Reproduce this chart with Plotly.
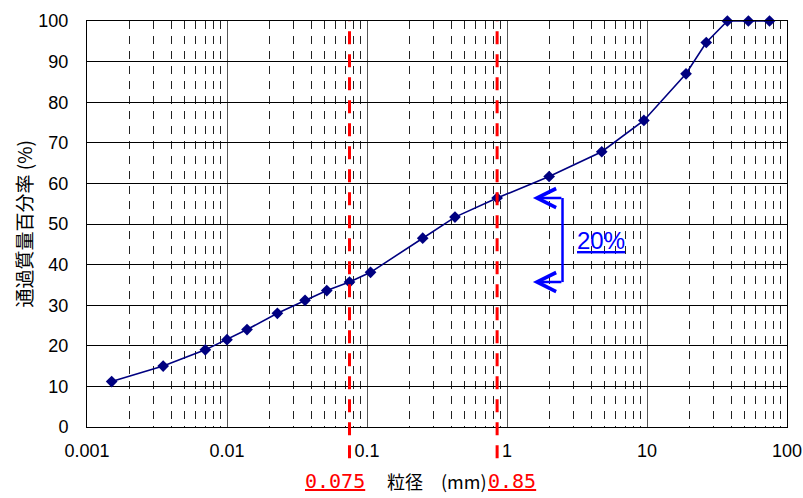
import math
import plotly.graph_objects as go

# --- data ---
grain_size_mm = [0.0015, 0.0035, 0.0070, 0.0100, 0.0139, 0.0229, 0.0361, 0.0516,
                 0.075, 0.106, 0.25, 0.425, 0.85, 2.0, 4.75, 9.5, 19.0, 26.5, 37.5, 53.0, 75.0]
passing_pct = [11.2, 15.0, 19.0, 21.5, 24.0, 28.0, 31.2, 33.6,
               35.7, 38.1, 46.5, 51.7, 56.4, 61.7, 67.8, 75.5, 87.0, 94.7, 100.0, 100.0, 100.0]

x_tick_vals = [0.001, 0.01, 0.1, 1, 10, 100]
x_tick_text = ["0.001", "0.01", "0.1", "1", "10", "100"]
y_tick_vals = list(range(0, 101, 10))

ref_sizes = [0.075, 0.85]
ref_labels = ["0.075", "0.85"]
bracket_pct = [56.4, 35.7]
bracket_label = "20%"

x_title = "粒径\u3000(mm)"
y_title = "通過質量百分率 (%)"

NAVY = "#000080"
minor_vals = [m * 10 ** e for e in range(-3, 2) for m in range(2, 10)]

fig = go.Figure()
fig.add_trace(go.Scatter(
    x=grain_size_mm, y=passing_pct, mode="lines+markers",
    line=dict(color=NAVY, width=1.6),
    marker=dict(symbol="diamond", size=9, color=NAVY),
    cliponaxis=False, showlegend=False, hoverinfo="skip",
))

# red reference lines
for v in ref_sizes:
    fig.add_shape(type="line", xref="x", yref="paper", x0=v, x1=v, y0=-0.077, y1=1,
                  line=dict(color="#FF0000", width=3, dash="13px,10px"), layer="above")

label_shift = [-15, 15]
for v, t, s in zip(ref_sizes, ref_labels, label_shift):
    fig.add_annotation(x=math.log10(v), xref="x", y=-0.132, yref="paper",
                       text=t, showarrow=False, xshift=s, xanchor="center", yanchor="middle",
                       font=dict(family="DejaVu Sans Mono", size=20, color="#FF0000",
                                 lineposition="under"))

# axis titles as annotations
fig.add_annotation(x=0.5, xref="paper", y=-0.133, yref="paper", text=x_title,
                   showarrow=False, xanchor="center", yanchor="middle",
                   font=dict(family="Noto Sans CJK JP", size=18, color="black"))
fig.add_annotation(x=-0.092, xref="paper", y=0.5, yref="paper", text=y_title,
                   showarrow=False, textangle=-90, xanchor="center", yanchor="middle",
                   font=dict(family="Noto Sans CJK JP", size=19, color="black"))

# 20% bracket
BLUE = "#0000FF"
bx_vert = 0.6793
bx_head = 0.6370
fig.add_shape(type="line", xref="paper", yref="y", x0=bx_vert, x1=bx_vert,
              y0=bracket_pct[0], y1=bracket_pct[1], line=dict(color=BLUE, width=2.5), layer="above")
for yv in bracket_pct:
    fig.add_annotation(x=bx_head, xref="paper", y=yv, yref="y", ax=30, ay=0,
                       text="", showarrow=True, arrowhead=5, arrowsize=1.5,
                       arrowwidth=2.5, arrowcolor=BLUE)
fig.add_annotation(x=0.7346, xref="paper", y=(bracket_pct[0] + bracket_pct[1]) / 2, yref="y",
                   text=bracket_label, showarrow=False, xanchor="center", yanchor="middle",
                   font=dict(family="Liberation Sans", size=24, color=BLUE, lineposition="under"))

fig.update_layout(
    width=803, height=498,
    margin=dict(l=87, r=16.3, t=20.7, b=70.7, autoexpand=False),
    paper_bgcolor="white", plot_bgcolor="white",
    font=dict(family="Liberation Sans", size=18, color="black"),
    xaxis=dict(
        type="log", range=[-3, 2], tickmode="array", tickvals=x_tick_vals, ticktext=x_tick_text,
        showgrid=True, gridcolor="#555555", gridwidth=1.4, automargin=False,
        showline=True, linecolor="black", linewidth=1, mirror=True,
        ticks="", ticklabelstandoff=7, zeroline=False,
        minor=dict(tickmode="array", tickvals=minor_vals, showgrid=True,
                   gridcolor="#222222", gridwidth=1, griddash="8px,7px", ticks=""),
        tickfont=dict(size=18),
    ),
    yaxis=dict(
        range=[0, 100], tickmode="array", tickvals=y_tick_vals, automargin=False,
        showgrid=True, gridcolor="black", gridwidth=1,
        showline=True, linecolor="black", linewidth=1, mirror=True,
        ticks="", ticklabelstandoff=14, zeroline=False,
        tickfont=dict(size=18),
    ),
)

fig.write_html("out.html")
